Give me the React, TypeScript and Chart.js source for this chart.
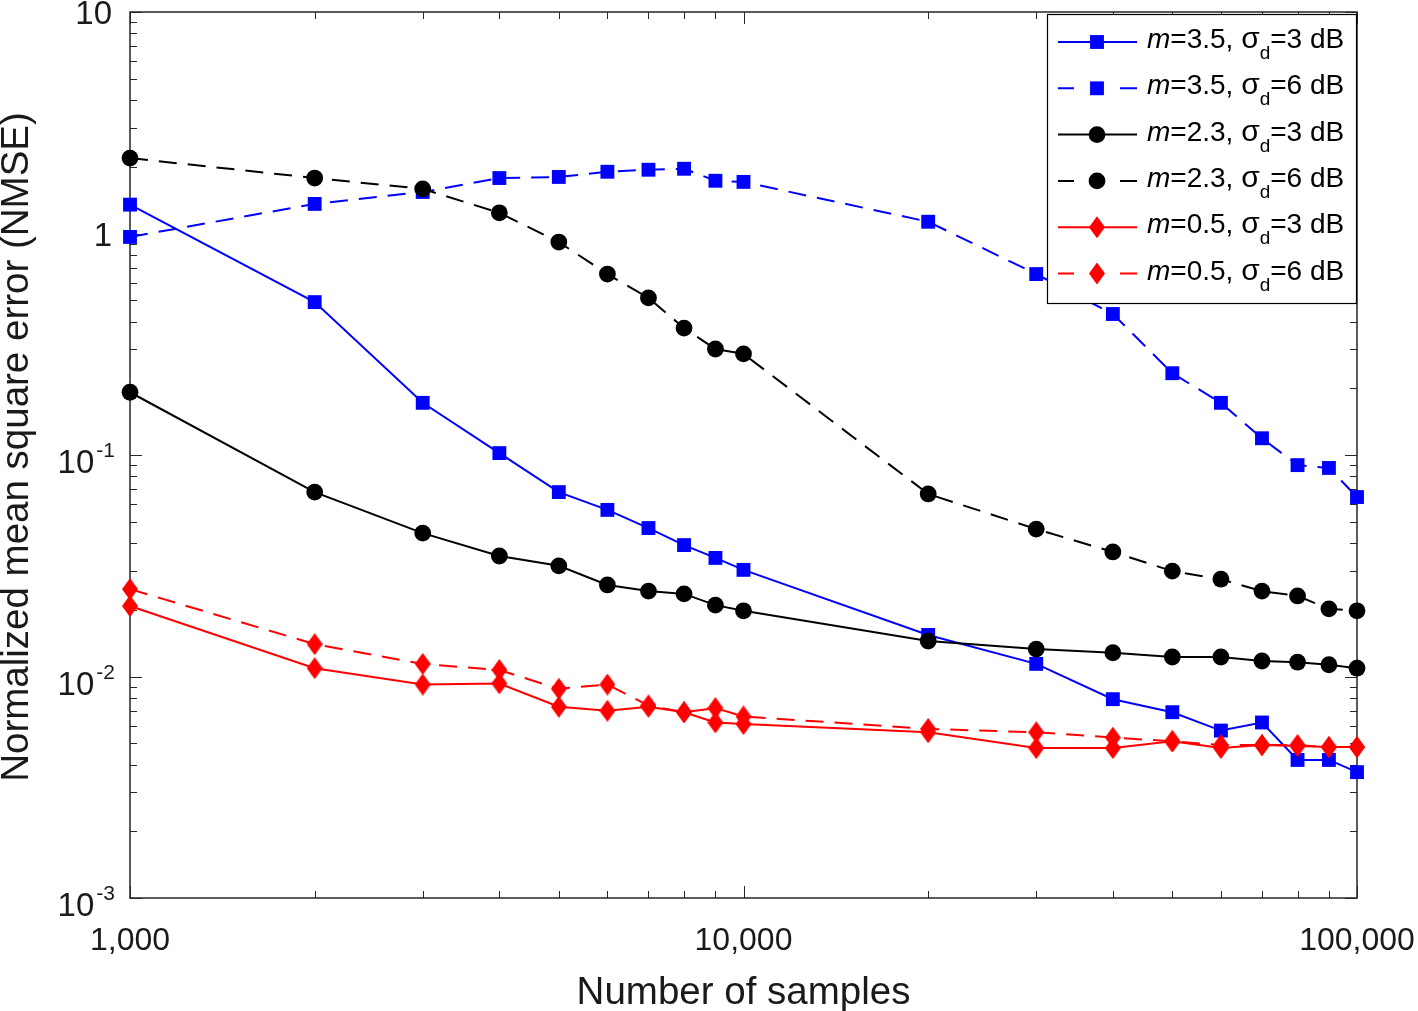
import React, { useEffect, useRef } from 'react';
import { Chart, registerables } from 'chart.js';

Chart.register(...registerables);

// ---------------- data ----------------
const samples = [1000, 2000, 3000, 4000, 5000, 6000, 7000, 8000, 9000, 10000, 20000, 30000, 40000, 50000, 60000, 70000, 80000, 90000, 100000];

const m35Sigma3 = [1.35, 0.49, 0.172, 0.102, 0.068, 0.0565, 0.0468, 0.0392, 0.0343, 0.0303, 0.0154, 0.0114, 0.0079, 0.0069, 0.0057, 0.0062, 0.0042, 0.0042, 0.0037];
const m35Sigma6 = [0.965, 1.36, 1.54, 1.78, 1.8, 1.9, 1.94, 1.96, 1.73, 1.71, 1.13, 0.656, 0.433, 0.234, 0.172, 0.119, 0.09, 0.0874, 0.0646];
const m23Sigma3 = [0.192, 0.068, 0.0444, 0.035, 0.0316, 0.0259, 0.0243, 0.0236, 0.021, 0.0198, 0.01446, 0.0133, 0.0128, 0.01225, 0.01225, 0.01175, 0.0116, 0.0113, 0.0109];
const m23Sigma6 = [2.19, 1.78, 1.59, 1.24, 0.915, 0.656, 0.512, 0.374, 0.301, 0.286, 0.0667, 0.0463, 0.0365, 0.0299, 0.0275, 0.0243, 0.0231, 0.0202, 0.0198];
const m05Sigma3 = [0.0208, 0.0109, 0.0092, 0.0093, 0.0073, 0.007, 0.0073, 0.0069, 0.0062, 0.0061, 0.0056, 0.00475, 0.00475, 0.0051, 0.00475, 0.0049, 0.00485, 0.0048, 0.0048];
const m05Sigma6 = [0.0248, 0.014, 0.0114, 0.0107, 0.0088, 0.0092, 0.0074, 0.0069, 0.0072, 0.0066, 0.0058, 0.0056, 0.0053, 0.0051, 0.0049, 0.0049, 0.0049, 0.0048, 0.0048];

const legendM = ['3.5', '3.5', '2.3', '2.3', '0.5', '0.5'];
const legendSigma = ['3', '6', '3', '6', '3', '6'];

const xTickValues = [1000, 10000, 100000];
const xTickLabels = ['1,000', '10,000', '100,000'];
const yTickValues = [10, 1, 0.1, 0.01, 0.001];
const yTickBases = ['10', '1', '10', '10', '10'];
const yTickExps = ['', '', '-1', '-2', '-3'];

const xAxisTitle = 'Number of samples';
const yAxisTitle = 'Normalized mean square error (NMSE)';

// ---------------- styles ----------------
const FONT = '"Liberation Sans", Arial, Helvetica, sans-serif';
const AXIS_COLOR = '#262626';
const TEXT_COLOR = '#1a1a1a';
const DASH = [18, 11];

type Marker = 'square' | 'circle' | 'diamond';

const seriesDefs = [
  { values: m35Sigma3, color: '#0000ff', dashed: false, marker: 'square' as Marker },
  { values: m35Sigma6, color: '#0000ff', dashed: true, marker: 'square' as Marker },
  { values: m23Sigma3, color: '#000000', dashed: false, marker: 'circle' as Marker },
  { values: m23Sigma6, color: '#000000', dashed: true, marker: 'circle' as Marker },
  { values: m05Sigma3, color: '#ff0000', dashed: false, marker: 'diamond' as Marker },
  { values: m05Sigma6, color: '#ff0000', dashed: true, marker: 'diamond' as Marker },
];

const DIAMOND_W = 16;
const DIAMOND_H = 22;
const SQUARE_R = 9.8;
const CIRCLE_R = 8.4;

function makeDiamond(color: string): HTMLCanvasElement {
  const c = document.createElement('canvas');
  c.width = DIAMOND_W;
  c.height = DIAMOND_H;
  const g = c.getContext('2d')!;
  g.fillStyle = color;
  g.beginPath();
  g.moveTo(DIAMOND_W / 2, 0);
  g.lineTo(DIAMOND_W, DIAMOND_H / 2);
  g.lineTo(DIAMOND_W / 2, DIAMOND_H);
  g.lineTo(0, DIAMOND_H / 2);
  g.closePath();
  g.fill();
  return c;
}

function drawMarker(ctx: CanvasRenderingContext2D, m: Marker, x: number, y: number, color: string) {
  ctx.save();
  ctx.fillStyle = color;
  ctx.beginPath();
  if (m === 'square') {
    const s = SQUARE_R * Math.SQRT1_2;
    ctx.rect(x - s, y - s, 2 * s, 2 * s);
  } else if (m === 'circle') {
    ctx.arc(x, y, CIRCLE_R, 0, Math.PI * 2);
  } else {
    ctx.moveTo(x, y - DIAMOND_H / 2);
    ctx.lineTo(x + DIAMOND_W / 2, y);
    ctx.lineTo(x, y + DIAMOND_H / 2);
    ctx.lineTo(x - DIAMOND_W / 2, y);
    ctx.closePath();
  }
  ctx.fill();
  ctx.restore();
}

const axesPlugin = {
  id: 'matlabAxes',
  beforeDatasetsDraw(chart: any) {
    const ctx: CanvasRenderingContext2D = chart.ctx;
    const { left, right, top, bottom } = chart.chartArea;
    const xs = chart.scales.x;
    const ys = chart.scales.y;
    ctx.save();
    ctx.strokeStyle = AXIS_COLOR;
    ctx.lineWidth = 1;
    ctx.beginPath();
    for (let d = 3; d <= 5; d++) {
      for (let k = 1; k <= 9; k++) {
        const v = k * Math.pow(10, d);
        if (v > 100000) break;
        const px = Math.round(xs.getPixelForValue(v)) + 0.5;
        const len = k === 1 ? 12 : 7;
        ctx.moveTo(px, bottom);
        ctx.lineTo(px, bottom - len);
        ctx.moveTo(px, top);
        ctx.lineTo(px, top + len);
      }
    }
    for (let d = -3; d <= 1; d++) {
      for (let k = 1; k <= 9; k++) {
        const v = k * Math.pow(10, d);
        if (v > 10) break;
        const py = Math.round(ys.getPixelForValue(v)) + 0.5;
        const len = k === 1 ? 12 : 7;
        ctx.moveTo(left, py);
        ctx.lineTo(left + len, py);
        ctx.moveTo(right, py);
        ctx.lineTo(right - len, py);
      }
    }
    ctx.stroke();
    ctx.lineWidth = 1.5;
    ctx.strokeRect(left, top, right - left, bottom - top);

    // y tick labels with superscripts
    ctx.fillStyle = TEXT_COLOR;
    ctx.textAlign = 'right';
    ctx.textBaseline = 'alphabetic';
    const R = 115;
    yTickValues.forEach((v, i) => {
      const py = ys.getPixelForValue(v);
      const exp = yTickExps[i];
      if (!exp) {
        ctx.font = `33px ${FONT}`;
        ctx.fillText(yTickBases[i], R - 3, py + 12);
      } else {
        ctx.font = `21px ${FONT}`;
        const ew = ctx.measureText(exp).width;
        ctx.fillText(exp, R, py + 2);
        ctx.font = `33px ${FONT}`;
        ctx.fillText(yTickBases[i], R - ew - 2, py + 18);
      }
    });

    // y axis title
    ctx.save();
    ctx.translate(17, 447);
    ctx.rotate(-Math.PI / 2);
    ctx.textAlign = 'center';
    ctx.textBaseline = 'middle';
    ctx.font = `38.5px ${FONT}`;
    ctx.fillText(yAxisTitle, 0, 0);
    ctx.restore();
    ctx.restore();
  },
  afterDatasetsDraw(chart: any) {
    const ctx: CanvasRenderingContext2D = chart.ctx;
    ctx.save();
    const bx = 1047, by = 14, bw = 309, bh = 289;
    ctx.fillStyle = '#ffffff';
    ctx.fillRect(bx, by, bw, bh);
    ctx.strokeStyle = '#000000';
    ctx.lineWidth = 1.2;
    ctx.strokeRect(bx + 0.5, by + 0.5, bw, bh);
    seriesDefs.forEach((s, i) => {
      const y = 42 + i * 46.3;
      ctx.strokeStyle = s.color;
      ctx.lineWidth = 2;
      ctx.beginPath();
      if (s.dashed) {
        ctx.moveTo(1058, y);
        ctx.lineTo(1074, y);
        ctx.moveTo(1120, y);
        ctx.lineTo(1137, y);
      } else {
        ctx.moveTo(1058, y);
        ctx.lineTo(1137, y);
      }
      ctx.stroke();
      drawMarker(ctx, s.marker, 1097, y, s.color);

      let x = 1147;
      const base = y + 6;
      ctx.fillStyle = '#000000';
      ctx.textAlign = 'left';
      ctx.textBaseline = 'alphabetic';
      ctx.font = `italic 28px ${FONT}`;
      ctx.fillText('m', x, base);
      x += ctx.measureText('m').width;
      ctx.font = `28px ${FONT}`;
      const t1 = '=' + legendM[i] + ', ';
      ctx.fillText(t1, x, base);
      x += ctx.measureText(t1).width;
      ctx.font = `30px ${FONT}`;
      ctx.fillText('σ', x, base);
      x += ctx.measureText('σ').width;
      ctx.font = `19px ${FONT}`;
      ctx.fillText('d', x, base + 11);
      x += ctx.measureText('d').width;
      ctx.font = `28px ${FONT}`;
      ctx.fillText('=' + legendSigma[i] + ' dB', x, base);
    });
    ctx.restore();
  },
};

export default function App() {
  const ref = useRef<HTMLCanvasElement>(null);
  useEffect(() => {
    const diamond = makeDiamond('#ff0000');
    const n = seriesDefs.length;
    const chart = new Chart(ref.current!, {
      type: 'line',
      data: {
        datasets: seriesDefs.map((s, i) => ({
          label: `m=${legendM[i]}, σd=${legendSigma[i]} dB`,
          data: samples.map((x, j) => ({ x, y: s.values[j] })),
          borderColor: s.color,
          backgroundColor: s.color,
          borderWidth: 2,
          borderDash: s.dashed ? DASH : [],
          pointStyle: s.marker === 'square' ? 'rect' : s.marker === 'circle' ? 'circle' : (diamond as any),
          pointRadius: s.marker === 'square' ? SQUARE_R : CIRCLE_R,
          pointBorderWidth: 0,
          pointBackgroundColor: s.color,
          tension: 0,
          clip: false as any,
          order: n - i,
        })),
      },
      options: {
        responsive: false,
        animation: false,
        events: [],
        layout: { padding: { top: 12, right: 61, left: 0, bottom: 0 } },
        plugins: { legend: { display: false }, tooltip: { enabled: false } },
        scales: {
          x: {
            type: 'logarithmic',
            min: 1000,
            max: 100000,
            grid: { display: false, drawTicks: false },
            border: { display: false },
            afterBuildTicks: (s: any) => {
              s.ticks = xTickValues.map((v) => ({ value: v }));
            },
            ticks: {
              autoSkip: false,
              maxRotation: 0,
              minRotation: 0,
              padding: 24,
              color: TEXT_COLOR,
              font: { family: FONT, size: 32 },
              callback: (v: any) => {
                const i = xTickValues.indexOf(Number(v));
                return i >= 0 ? xTickLabels[i] : '';
              },
            },
            title: {
              display: true,
              text: xAxisTitle,
              color: TEXT_COLOR,
              font: { family: FONT, size: 38.5, lineHeight: 0.9 },
              padding: { top: 0, bottom: 0 },
            },
            afterFit: (s: any) => {
              s.height = 113;
              s.paddingLeft = 0;
              s.paddingRight = 0;
            },
          },
          y: {
            type: 'logarithmic',
            min: 0.001,
            max: 10,
            grid: { display: false, drawTicks: false },
            border: { display: false },
            ticks: { display: false },
            afterFit: (s: any) => {
              s.width = 130;
              s.paddingTop = 0;
              s.paddingBottom = 0;
            },
          },
        },
      } as any,
      plugins: [axesPlugin],
    });
    return () => chart.destroy();
  }, []);
  return (
    <div style={{ position: 'absolute', left: 0, top: 0, width: 1418, height: 1011, background: '#fff' }}>
      <canvas ref={ref} width={1418} height={1011} style={{ display: 'block' }} />
    </div>
  );
}
